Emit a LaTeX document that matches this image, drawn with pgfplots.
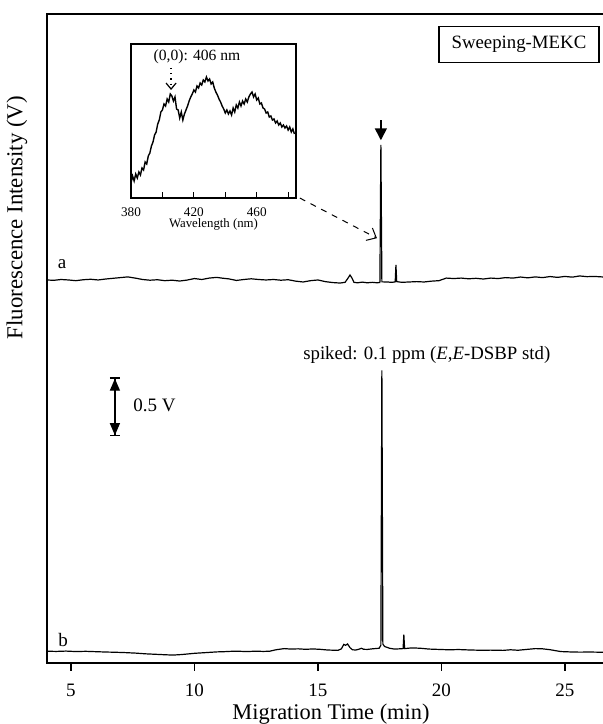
\documentclass[border=0pt]{standalone}
\usepackage{fontspec}
\setmainfont{Liberation Serif}
\usepackage{pgfplots}
\pgfplotsset{compat=1.18}
\usetikzlibrary{arrows.meta}

\begin{document}
\begin{tikzpicture}[x=1pt,y=1pt]
\useasboundingbox (0,0) rectangle (301.5,362);
% main electropherogram
\begin{axis}[
    at={(23.5pt,30.5pt)}, anchor=south west,
    scale only axis, width=284pt, height=324.5pt,
    xmin=4.03, xmax=27.03, ymin=0, ymax=5.5,
    axis line style={line width=1pt},
    xtick={5,10,15,20,25}, ytick=\empty,
    xtick pos=left, tick align=outside,
    major tick length=4pt,
    tick style={line width=0.8pt, black},
    ticklabel style={font=\fontsize{9.5}{11}\selectfont},
    xticklabel style={anchor=base, yshift=-13pt},
    /pgf/number format/assume math mode=true,
    xlabel={Migration Time (min)},
    xlabel style={at={(axis description cs:0.5,0)}, anchor=base, yshift=-28.5pt,
      font=\fontsize{11.2}{13}\selectfont},
    ylabel={Fluorescence Intensity (V)},
    ylabel style={at={(axis description cs:-0.053,0.686)}, anchor=center,
      font=\fontsize{11.4}{13}\selectfont},
  ]
  % trace a
  \addplot[black, line width=0.6pt] coordinates {
    (4.03,3.246)(4.3,3.243)(4.6,3.250)(4.9,3.246)(5.2,3.240)(5.5,3.248)
    (5.8,3.252)(6.1,3.246)(6.4,3.254)(6.7,3.260)(7.0,3.266)(7.3,3.272)
    (7.6,3.262)(7.9,3.250)(8.2,3.244)(8.5,3.248)(8.8,3.240)(9.1,3.244)
    (9.4,3.237)(9.7,3.245)(10.0,3.258)(10.3,3.250)(10.6,3.262)(10.9,3.268)
    (11.1,3.262)(11.4,3.255)(11.7,3.242)(12.0,3.250)(12.3,3.256)(12.6,3.250)
    (12.9,3.246)(13.2,3.250)(13.5,3.244)(13.8,3.248)(14.1,3.236)(14.4,3.229)
    (14.7,3.240)(15.0,3.246)(15.3,3.232)(15.6,3.224)(15.9,3.220)(16.1,3.226)
    (16.22,3.262)(16.3,3.288)(16.38,3.262)(16.46,3.226)(16.6,3.222)(16.8,3.228)
    (17.0,3.222)(17.2,3.226)(17.4,3.222)(17.51,3.225)(17.55,4.39)
    (17.59,3.23)(17.8,3.229)(18.0,3.226)(18.13,3.230)(18.16,3.373)
    (18.19,3.232)(18.4,3.226)(18.7,3.229)(19.0,3.232)(19.3,3.229)(19.6,3.236)
    (19.9,3.240)(20.2,3.262)(20.5,3.258)(20.8,3.262)(21.1,3.256)(21.4,3.260)
    (21.7,3.254)(22.0,3.262)(22.3,3.258)(22.6,3.266)(22.9,3.262)(23.2,3.271)
    (23.5,3.264)(23.8,3.272)(24.1,3.266)(24.4,3.275)(24.7,3.268)(25.0,3.276)
    (25.3,3.270)(25.6,3.280)(25.9,3.274)(26.2,3.276)(26.5,3.272)(27.0,3.270)
  };
  % trace b
  \addplot[black, line width=0.6pt] coordinates {
    (4.03,0.100)(4.4,0.098)(4.8,0.101)(5.2,0.097)(5.6,0.099)(6.0,0.096)
    (6.4,0.093)(6.8,0.091)(7.2,0.088)(7.6,0.084)(8.0,0.078)(8.4,0.074)
    (8.8,0.070)(9.13,0.067)(9.5,0.072)(9.8,0.078)(10.0,0.082)(10.3,0.086)
    (10.6,0.090)(10.9,0.094)(11.2,0.096)(11.5,0.099)(11.74,0.100)(12.1,0.097)
    (12.5,0.100)(12.8,0.098)(13.05,0.100)(13.3,0.112)(13.63,0.122)(13.9,0.118)
    (14.2,0.120)(14.5,0.116)(14.8,0.119)(15.08,0.116)(15.4,0.110)(15.81,0.107)
    (15.95,0.120)(16.05,0.158)(16.12,0.150)(16.2,0.161)(16.3,0.130)(16.4,0.112)
    (16.54,0.110)(16.68,0.118)(16.76,0.125)(16.85,0.116)(17.0,0.115)(17.2,0.120)
    (17.48,0.125)(17.55,0.15)(17.59,2.48)(17.63,0.16)
    (17.7,0.14)(17.9,0.125)(18.1,0.118)(18.3,0.120)(18.45,0.122)
    (18.48,0.24)(18.51,0.122)(18.8,0.128)(19.15,0.125)(19.5,0.118)
    (19.9,0.115)(20.3,0.112)(20.7,0.114)(21.19,0.110)(21.6,0.108)(22.0,0.109)
    (22.5,0.107)(22.8,0.112)(23.1,0.108)(23.5,0.116)(23.81,0.122)(24.1,0.120)
    (24.39,0.113)(24.83,0.097)(25.2,0.094)(25.6,0.092)(26.0,0.093)(26.54,0.091)
    (27.0,0.090)
  };
  \node[font=\fontsize{9.5}{11}\selectfont] at (axis cs:4.64,3.38) {a};
  \node[font=\fontsize{9.5}{11}\selectfont] at (axis cs:4.68,0.195) {b};
  \node[draw, line width=0.6pt, minimum width=80pt, minimum height=18pt, inner sep=0pt,
    font=\fontsize{9.4}{11}\selectfont] at (axis cs:23.14,5.24) {Sweeping-MEKC};
  \node[font=\fontsize{9.4}{11}\selectfont] at (axis cs:19.41,2.61)
    {spiked: 0.1 ppm (\textit{E},\textit{E}-DSBP std)};
  \draw[line width=0.6pt, {Bar[width=5pt]Triangle[width=5pt,length=6pt]}-{Triangle[width=5pt,length=6pt]Bar[width=5pt]}]
    (axis cs:6.78,1.92) -- (axis cs:6.78,2.42);
  \node[anchor=west, inner sep=0pt, font=\fontsize{9.5}{11}\selectfont] at (axis cs:7.51,2.18) {0.5 V};
  \draw[line width=0.8pt, -{Triangle[width=6pt,length=6pt]}] (axis cs:17.55,4.60) -- (axis cs:17.55,4.43);
  \draw[dashed, line width=0.5pt, -{Straight Barb[length=4pt,width=7pt]}]
    (axis cs:14.27,3.94) -- (axis cs:17.39,3.60);
\end{axis}
% inset: fluorescence spectrum
\begin{axis}[
    at={(65.5pt,263pt)}, anchor=south west,
    scale only axis, width=82.5pt, height=77pt,
    xmin=380, xmax=485, ymin=0, ymax=154,
    axis line style={line width=0.9pt},
    ytick=\empty,
    xtick={380,400,...,480}, xticklabels={380,,420,,460,},
    xtick pos=left, tick align=inside, major tick length=3pt,
    tick style={line width=0.6pt, black},
    ticklabel style={font=\fontsize{6.6}{8}\selectfont},
    xticklabel style={anchor=base, yshift=-9.5pt},
    xlabel={Wavelength (nm)},
    xlabel style={at={(axis description cs:0.5,0)}, anchor=base, yshift=-15pt,
      font=\fontsize{6.4}{8}\selectfont},
    clip=false,
  ]
  \addplot[black, line width=0.7pt] coordinates {
    (380,15)(381,22)(382,17)(383,24)(384,20)(385,26)(386,23)(387,30)(388,28)(389,36)
    (390,34)(391,42)(392,45)(393,52)(394,56)(395,63)(396,66)(397,74)(398,78)(399,86)
    (400,88)(401,94)(402,92)(403,99)(404,96)(405,104)(406,102)(407,97)(408,101)(409,89)
    (410,88)(411,80)(412,86)(413,78)(414,84)(415,88)(416,92)(417,97)(418,101)(419,104)
    (420,108)(421,106)(422,112)(423,110)(424,115)(425,113)(426,118)(427,116)(428,121)(429,117)
    (430,119)(431,114)(432,116)(433,110)(434,106)(435,103)(436,99)(437,96)(438,92)(439,89)
    (440,85)(441,88)(442,84)(443,87)(444,83)(445,90)(446,86)(447,93)(448,90)(449,96)
    (450,92)(451,97)(452,94)(453,99)(454,96)(455,101)(456,104)(457,106)(458,101)(459,104)
    (460,98)(461,100)(462,94)(463,95)(464,90)(465,89)(466,85)(467,86)(468,81)(469,82)
    (470,78)(471,79)(472,75)(473,77)(474,73)(475,75)(476,71)(477,73)(478,70)(479,72)
    (480,68)(481,71)(482,66)(483,69)(484,64)
  };
  \draw[dotted, line width=0.6pt, -{Straight Barb[length=3pt,width=5pt]}]
    (axis cs:405.5,130) -- (axis cs:405.5,108);
  \node[font=\fontsize{7.8}{9}\selectfont] at (axis cs:422,141) {(0,0): 406 nm};
\end{axis}
\end{tikzpicture}
\end{document}
